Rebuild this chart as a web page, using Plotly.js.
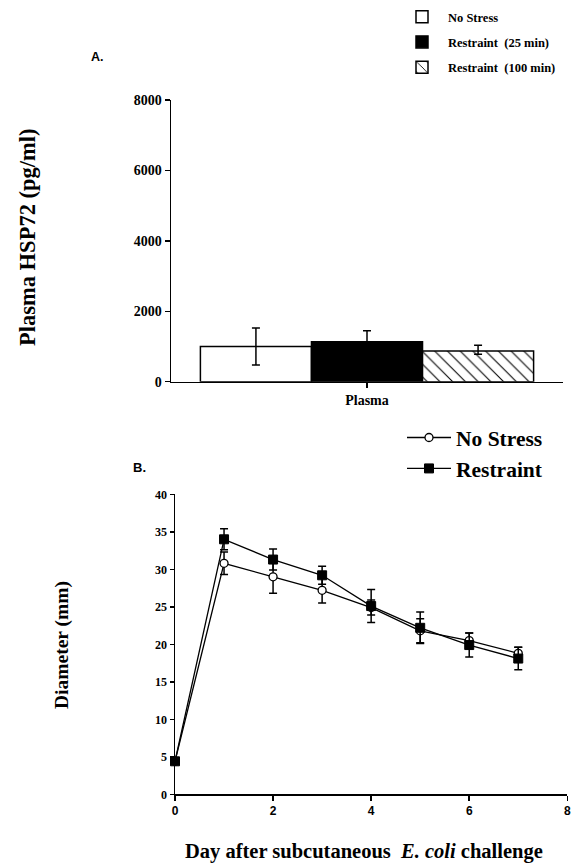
<!DOCTYPE html>
<html>
<head>
<meta charset="utf-8">
<script src="https://cdn.plot.ly/plotly-3.0.1.min.js"></script>
<style>html,body{margin:0;padding:0;background:#fff;}#chart{width:577px;height:865px;}</style>
</head>
<body>
<div id="chart"></div>
<script>
// ---- Panel A data ----
const barCategory = ['Plasma'];
const barNames = ['No Stress', 'Restraint  (25 min)', 'Restraint  (100 min)'];
const barValues = [1000, 1135, 872];
const barErrPlus = [525, 310, 165];
const barErrMinus = [525, 310, 90];

// ---- Panel B data ----
const days = [0, 1, 2, 3, 4, 5, 6, 7];
const noStress = [4.4, 30.8, 29.0, 27.2, 24.9, 21.8, 20.5, 18.8];
const noStressErr = [0, 1.5, 2.2, 1.7, 1.0, 1.6, 1.0, 0.8];
const restraint = [4.4, 34.0, 31.3, 29.2, 25.1, 22.2, 19.9, 18.1];
const restraintErr = [0, 1.4, 1.4, 1.2, 2.2, 2.1, 1.6, 1.5];

const serif = 'Liberation Serif';
const sans = 'Liberation Sans';
const H = 865, W = 577;
const py = p => 1 - p / H;
const px = p => p / W;

const traces = [
  {
    type: 'bar', x: barCategory, y: [barValues[0]], name: barNames[0],
    marker: {color: '#ffffff', line: {color: '#000', width: 1.5}},
    error_y: {type: 'data', array: [barErrPlus[0]], arrayminus: [barErrMinus[0]], color: '#000', thickness: 1.5, width: 4},
    xaxis: 'x', yaxis: 'y', legend: 'legend', legendgroup: 'a'
  },
  {
    type: 'bar', x: barCategory, y: [barValues[1]], name: barNames[1],
    marker: {color: '#000000', line: {color: '#000', width: 1.5}},
    error_y: {type: 'data', array: [barErrPlus[1]], arrayminus: [barErrMinus[1]], color: '#000', thickness: 1.5, width: 4},
    xaxis: 'x', yaxis: 'y', legend: 'legend', legendgroup: 'b'
  },
  {
    type: 'bar', x: barCategory, y: [barValues[2]], name: barNames[2],
    marker: {color: '#ffffff', line: {color: '#000', width: 1.5},
      pattern: {shape: '\\', fgcolor: '#000', bgcolor: '#fff', size: 9, solidity: 0.12}},
    error_y: {type: 'data', array: [barErrPlus[2]], arrayminus: [barErrMinus[2]], color: '#000', thickness: 1.5, width: 4},
    xaxis: 'x', yaxis: 'y', legend: 'legend', legendgroup: 'c'
  },
  {
    type: 'scatter', mode: 'lines+markers', x: days, y: noStress, name: 'No Stress',
    line: {color: '#000', width: 1.3},
    marker: {symbol: 'circle', size: 8, color: '#fff', line: {color: '#000', width: 1.3}},
    error_y: {type: 'data', array: noStressErr, color: '#000', thickness: 1.5, width: 4},
    xaxis: 'x2', yaxis: 'y2', legend: 'legend2', cliponaxis: false
  },
  {
    type: 'scatter', mode: 'lines+markers', x: days, y: restraint, name: 'Restraint',
    line: {color: '#000', width: 1.3},
    marker: {symbol: 'square', size: 9, color: '#000', line: {color: '#000', width: 1}},
    error_y: {type: 'data', array: restraintErr, color: '#000', thickness: 1.5, width: 4},
    xaxis: 'x2', yaxis: 'y2', legend: 'legend2', cliponaxis: false
  }
];

const tf = (fam, size) => ({family: fam, size: size, color: '#000', weight: 'bold'});

const layout = {
  width: W, height: H,
  margin: {l: 0, r: 0, t: 0, b: 0},
  font: {family: serif, color: '#000'},
  paper_bgcolor: '#fff', plot_bgcolor: 'rgba(0,0,0,0)',
  barmode: 'group', bargap: 0.15, bargroupgap: 0,
  showlegend: true,
  xaxis: {
    domain: [px(171), px(563)], anchor: 'y', type: 'category', range: [-0.5, 0.5],
    showline: true, linecolor: '#000', linewidth: 1.5, showgrid: false, zeroline: false,
    ticks: 'outside', ticklen: 5, tickwidth: 1.5, tickcolor: '#000', tickfont: tf(serif, 14)
  },
  yaxis: {
    domain: [py(381.7), py(100)], anchor: 'x', range: [0, 8000], tickvals: [0, 2000, 4000, 6000, 8000],
    showline: true, linecolor: '#000', linewidth: 1.5, showgrid: false, zeroline: false,
    ticks: 'outside', ticklen: 5, tickwidth: 1.5, tickcolor: '#000', tickfont: tf(serif, 14)
  },
  xaxis2: {
    domain: [px(175), px(567.3)], anchor: 'y2', range: [0, 8], tickvals: [0, 2, 4, 6, 8],
    showline: true, linecolor: '#000', linewidth: 1.5, showgrid: false, zeroline: false,
    ticks: 'outside', ticklen: 5, tickwidth: 1.5, tickcolor: '#000', tickfont: tf(sans, 12)
  },
  yaxis2: {
    domain: [py(794.3), py(494.3)], anchor: 'x2', range: [0, 40], tickvals: [0, 5, 10, 15, 20, 25, 30, 35, 40],
    showline: true, linecolor: '#000', linewidth: 1.5, showgrid: false, zeroline: false,
    ticks: 'outside', ticklen: 4, tickwidth: 1.5, tickcolor: '#000', tickfont: tf(serif, 12)
  },
  legend: {
    x: px(396), y: py(2), xanchor: 'left', yanchor: 'top', itemwidth: 42,
    font: tf(serif, 12.5),
    tracegroupgap: 6, bgcolor: 'rgba(0,0,0,0)'
  },
  legend2: {
    x: px(402), y: py(417), xanchor: 'left', yanchor: 'top', itemwidth: 44,
    font: tf(serif, 21.5),
    bgcolor: 'rgba(0,0,0,0)', tracegroupgap: 0
  },
  annotations: [
    {text: 'A.', x: px(89), y: py(57), xref: 'paper', yref: 'paper', xanchor: 'left', yanchor: 'middle', showarrow: false,
     font: tf(sans, 12.5)},
    {text: 'B.', x: px(131), y: py(468), xref: 'paper', yref: 'paper', xanchor: 'left', yanchor: 'middle', showarrow: false,
     font: tf(sans, 13)},
    {text: 'Plasma HSP72 (pg/ml)', x: px(28), y: py(237), xref: 'paper', yref: 'paper', xanchor: 'center', yanchor: 'middle',
     textangle: -90, showarrow: false, font: tf(serif, 22.5)},
    {text: 'Diameter (mm)', x: px(62), y: py(645), xref: 'paper', yref: 'paper', xanchor: 'center', yanchor: 'middle',
     textangle: -90, showarrow: false, font: tf(serif, 19.5)},
    {text: 'Day after subcutaneous  <i>E. coli</i> challenge', x: px(364), y: py(851), xref: 'paper', yref: 'paper',
     xanchor: 'center', yanchor: 'middle', showarrow: false, font: tf(serif, 20.5)}
  ]
};

Plotly.newPlot('chart', traces, layout, {staticPlot: true, displayModeBar: false});
</script>
</body>
</html>
